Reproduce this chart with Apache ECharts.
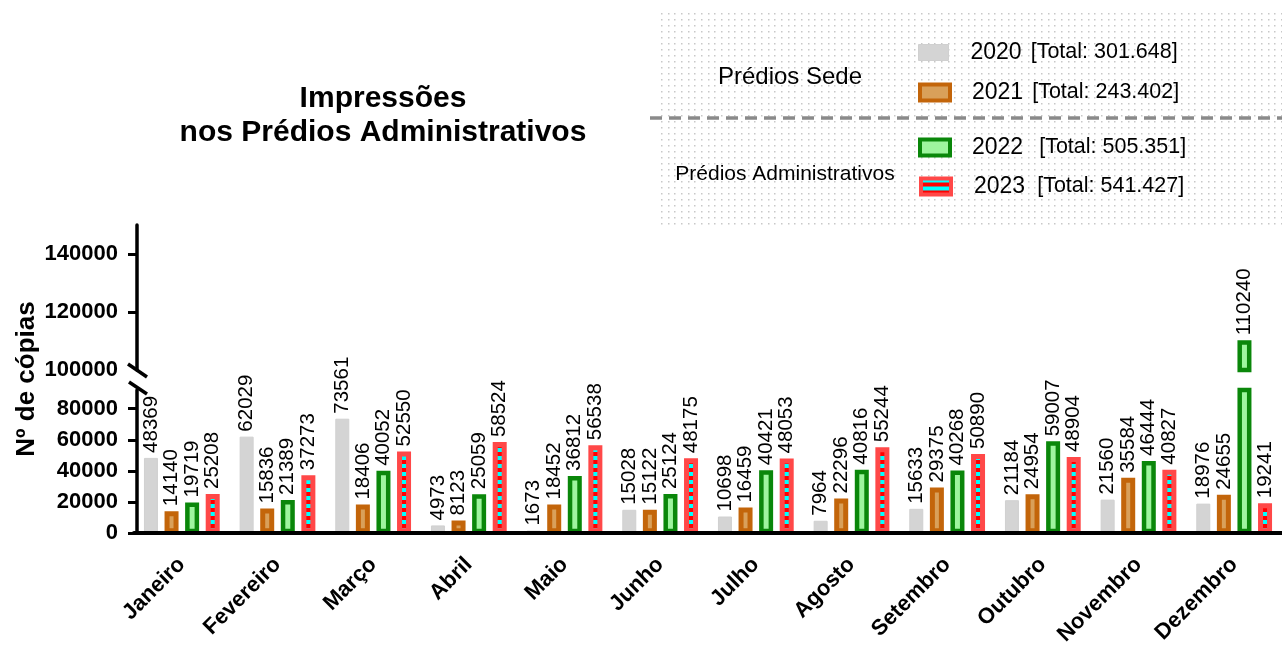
<!DOCTYPE html>
<html><head><meta charset="utf-8">
<script src="https://cdn.jsdelivr.net/npm/echarts/dist/echarts.min.js"></script>
<style>html,body{margin:0;padding:0;background:#fff}#c{width:1282px;height:648px}</style>
</head><body><div id="c"></div>
<script>
const months = ['Janeiro','Fevereiro','Março','Abril','Maio','Junho','Julho','Agosto','Setembro','Outubro','Novembro','Dezembro'];
const years = ['2020','2021','2022','2023'];
const v2020 = [48369,62029,73561,4973,1673,15028,10698,7964,15633,21184,21560,18976];
const v2021 = [14140,15836,18406,8123,18452,15122,16459,22296,29375,24954,35584,24655];
const v2022 = [19719,21389,40052,25059,36812,25124,40421,40816,40268,59007,46444,110240];
const v2023 = [25208,37273,52550,58524,56538,48175,48053,55244,50890,48904,40827,19241];
const groupLabels = ['Prédios Sede','Prédios Administrativos'];
const lowerTicks = [0,20000,40000,60000,80000];
const upperTicks = [100000,120000,140000];
const yTitle = 'Nº de cópias';
const titleText = 'Impressões\nnos Prédios Administrativos';

const values = [v2020, v2021, v2022, v2023];
const LOWER_MAX = 92000, UPPER_MIN = 100000, UPPER_MAX = 150000;
const FONT = '"Liberation Sans", Arial, Helvetica, sans-serif';

function stripes(){const c=document.createElement('canvas');c.width=2;c.height=8;const g=c.getContext('2d');g.fillStyle='#ff0000';g.fillRect(0,0,2,8);g.fillStyle='#00ffff';g.fillRect(0,0,2,4);return c;}
function dots(){const c=document.createElement('canvas');c.width=20;c.height=6;const g=c.getContext('2d');g.fillStyle='#c8c8c8';[1,8,14].forEach(x=>g.fillRect(x,1,1.5,1.5));return c;}
function fmt(n){return String(n).replace(/\B(?=(\d{3})+(?!\d))/g,'.');}

const styles = [
  {color:'#d4d4d4', borderColor:'#d0d0d0', borderWidth:1},
  {color:'#d9a05a', borderColor:'#c3650a', borderWidth:5},
  {color:'#9ef59e', borderColor:'#0a870a', borderWidth:4.5},
  {color:{image:stripes(), repeat:'repeat'}, borderColor:'#ff4848', borderWidth:5}
];

const labelBase = {show:true, position:'top', rotate:90, align:'left', verticalAlign:'middle', distance:5,
  fontSize:20.5, color:'#000', fontFamily:FONT, textBorderWidth:0};

const series = [];
years.forEach((y,i)=>{
  series.push({name:y, type:'bar', xAxisIndex:0, yAxisIndex:0, data:values[i], barWidth:14, barGap:'47%',
    itemStyle:styles[i], clip:true,
    label:Object.assign({}, labelBase, {formatter:p=> p.value > LOWER_MAX ? '' : String(p.value)})});
  series.push({name:y, type:'bar', xAxisIndex:1, yAxisIndex:1, data:values[i].map(v=> v>=UPPER_MIN ? v : '-'),
    barWidth:14, barGap:'47%', itemStyle:styles[i], clip:true,
    label:Object.assign({}, labelBase, {formatter:p=> String(p.value)})});
});

const legendCfg = [
  {top:53, left:918, padL:17, gap:9},
  {top:93, left:918, padL:17, gap:9},
  {top:148, left:918, padL:17, gap:16},
  {top:187, left:919, padL:18, gap:12}
];
const legends = years.map((y,i)=>{
  const total = values[i].reduce((a,b)=>a+b,0);
  const c = legendCfg[i];
  return {data:[y], left:c.left, top:c.top-12, itemWidth:30, itemHeight:16, padding:0, selectedMode:false,
    icon:'rect', itemStyle:{borderWidth:Math.min(styles[i].borderWidth,4)},
    formatter: name => '{y|'+name+'}{t|[Total: '+fmt(total)+']}',
    textStyle:{fontFamily:FONT, color:'#000', rich:{
      y:{fontSize:23, lineHeight:24, fontFamily:FONT, color:'#000', padding:[0,c.gap,0,c.padL]},
      t:{fontSize:21.5, lineHeight:24, fontFamily:FONT, color:'#000'}}}};
});

const axisLbl = {color:'#000', fontWeight:'bold', fontSize:22, fontFamily:FONT, margin:19, formatter:v=>String(v)};

const option = {
  animation:false,
  backgroundColor:'#fff',
  grid:[
    {left:134, right:0, top:390, height:144},
    {left:134, right:0, top:225, height:145}
  ],
  xAxis:[
    {type:'category', gridIndex:0, data:months, z:10,
      axisLine:{lineStyle:{color:'#000', width:4}},
      axisTick:{alignWithLabel:true, length:10, lineStyle:{color:'#000', width:3.5}},
      axisLabel:{rotate:45, interval:0, color:'#000', fontWeight:'bold', fontSize:22, fontFamily:FONT, margin:28}},
    {type:'category', gridIndex:1, data:months, show:false}
  ],
  yAxis:[
    {type:'value', gridIndex:0, min:0, max:LOWER_MAX, offset:-3, z:10,
      axisLine:{show:true, lineStyle:{color:'#000', width:3.5}},
      axisTick:{show:true, length:9, lineStyle:{color:'#000', width:3}, customValues:lowerTicks},
      axisLabel:Object.assign({customValues:lowerTicks}, axisLbl),
      splitLine:{show:false}},
    {type:'value', gridIndex:1, min:UPPER_MIN, max:UPPER_MAX, offset:-3, z:10,
      axisLine:{show:true, lineStyle:{color:'#000', width:3.5}},
      axisTick:{show:true, length:9, lineStyle:{color:'#000', width:3}, customValues:upperTicks.filter(v=>v>UPPER_MIN)},
      axisLabel:Object.assign({customValues:upperTicks}, axisLbl),
      splitLine:{show:false}}
  ],
  legend:legends,
  graphic:[
    {type:'rect', silent:true, z:0, shape:{x:658, y:12, width:624, height:213}, style:{fill:{image:dots(), repeat:'repeat'}}},
    {type:'line', silent:true, z:1, shape:{x1:650, y1:118, x2:1282, y2:118}, style:{stroke:'#8a8a8a', lineWidth:3.5, lineDash:[12,7]}},
    {type:'text', silent:true, z:2, style:{x:790, y:77, text:groupLabels[0], font:'24px '+FONT, fill:'#000', textAlign:'center', textVerticalAlign:'middle'}},
    {type:'text', silent:true, z:2, style:{x:785, y:174, text:groupLabels[1], font:'21px '+FONT, fill:'#000', textAlign:'center', textVerticalAlign:'middle'}},
    {type:'text', silent:true, z:2, style:{x:383, y:116, text:titleText, font:'bold 30px '+FONT, lineHeight:34, fill:'#000', textAlign:'center', textVerticalAlign:'middle'}},
    {type:'text', silent:true, z:2, x:27, y:379, rotation:Math.PI/2, style:{x:0, y:0, text:yTitle, font:'bold 26px '+FONT, fill:'#000', textAlign:'center', textVerticalAlign:'middle'}},
    {type:'line', silent:true, z:20, shape:{x1:128, y1:364, x2:147, y2:377}, style:{stroke:'#000', lineWidth:3.5}},
    {type:'line', silent:true, z:20, shape:{x1:129, y1:382, x2:147, y2:394}, style:{stroke:'#000', lineWidth:3.5}}
  ],
  series:series
};
echarts.init(document.getElementById('c'), null, {renderer:'canvas'}).setOption(option);
</script></body></html>
